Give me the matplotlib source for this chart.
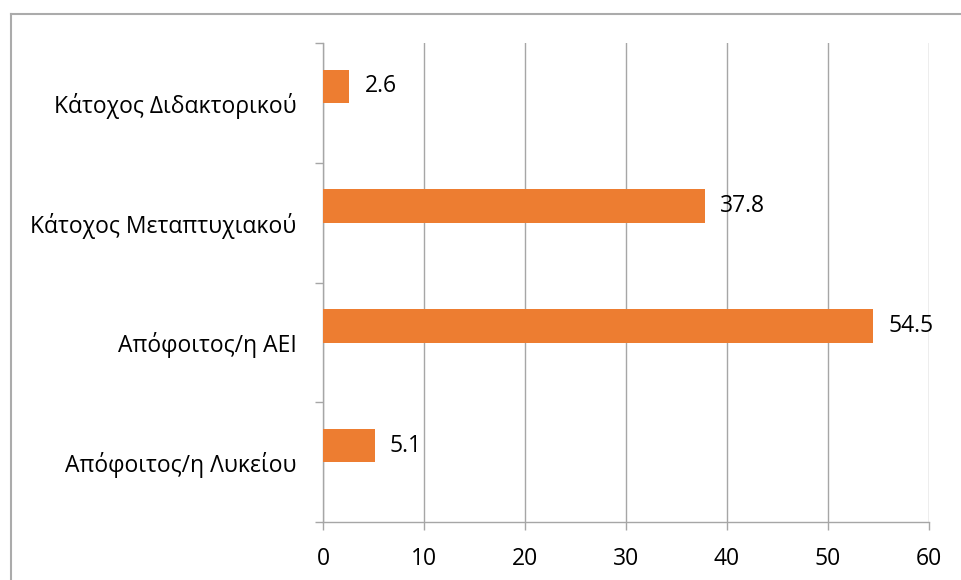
import matplotlib
matplotlib.use("Agg")
import matplotlib.pyplot as plt
from matplotlib.lines import Line2D
import numpy as np

# Education level (bottom to top) and share in percent
categories = ["Απόφοιτος/η Λυκείου", "Απόφοιτος/η ΑΕΙ",
              "Κάτοχος Μεταπτυχιακού", "Κάτοχος Διδακτορικού"]
values = [5.1, 54.5, 37.8, 2.6]
x_ticks = [0, 10, 20, 30, 40, 50, 60]

BAR_COLOR = "#ED7D31"
GRID_COLOR = "#A6A6A6"
FONT = ["Open Sans", "DejaVu Sans"]
FS = 16.5

plt.rcParams["font.family"] = FONT

fig = plt.figure(figsize=(9.62, 5.80), dpi=100)
ax = fig.add_axes([323 / 962, 1 - 522 / 580, (929 - 323) / 962, (522 - 43) / 580])

pos = np.arange(len(categories))
bar_h = 0.28
shift = 0.137  # bars sit slightly above the category centre
ax.barh(pos + shift, values, height=bar_h, color=BAR_COLOR, zorder=3)

for p, v in zip(pos, values):
    ax.annotate(f"{v}", xy=(v, p + shift), xytext=(11, 0), textcoords="offset points",
                va="center", ha="left", fontsize=FS, color="black")

ax.set_xlim(0, 60)
ax.set_ylim(-0.5, len(categories) - 0.5)
ax.set_xticks(x_ticks)
ax.set_xticklabels([str(t) for t in x_ticks], fontsize=FS)
ax.tick_params(axis="x", length=6, width=1, color=GRID_COLOR, pad=12)

# category boundaries get tick marks, centres get labels
ax.set_yticks(np.arange(-0.5, len(categories), 1.0))
ax.set_yticklabels([])
ax.tick_params(axis="y", which="major", length=6, width=1, color=GRID_COLOR)
ax.set_yticks(pos, minor=True)
ax.set_yticklabels(categories, minor=True, fontsize=FS)
ax.tick_params(axis="y", which="minor", length=0, pad=19)

ax.grid(axis="x", color=GRID_COLOR, linewidth=1, zorder=0)
for side in ["top", "right"]:
    ax.spines[side].set_visible(False)
for side in ["left", "bottom"]:
    ax.spines[side].set_color(GRID_COLOR)
    ax.spines[side].set_linewidth(1)

# outer chart frame (top and left edges)
fig.add_artist(Line2D([11 / 962, 1.0], [1 - 14 / 580, 1 - 14 / 580],
                      transform=fig.transFigure, color="#ABABAB", linewidth=1.5))
fig.add_artist(Line2D([11 / 962, 11 / 962], [0.0, 1 - 14 / 580],
                      transform=fig.transFigure, color="#ABABAB", linewidth=1.5))

fig.savefig("out.png", dpi=100)
